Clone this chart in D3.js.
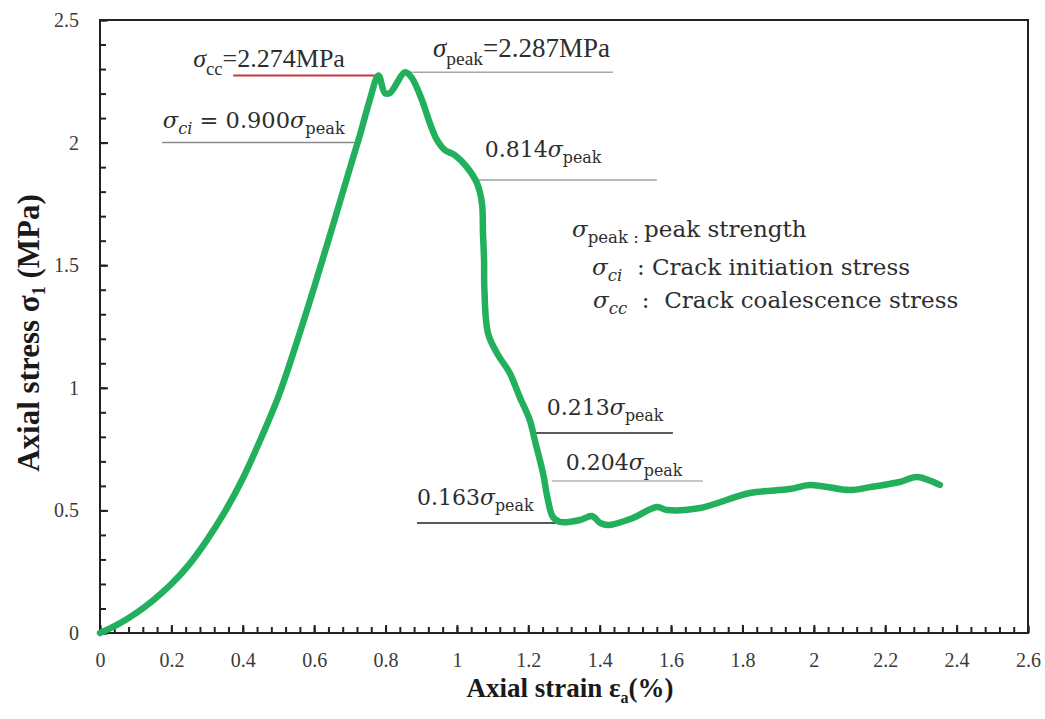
<!DOCTYPE html>
<html>
<head>
<meta charset="utf-8">
<script src="https://cdn.jsdelivr.net/npm/d3@7"></script>
<style>
  html, body { margin: 0; padding: 0; background: #fff; }
  svg { display: block; }
</style>
</head>
<body>
<svg id="chart" width="1045" height="719"></svg>
<script>
// Stress–strain record: axial strain (%) and axial stress (MPa)
const strain = [0, 0.05, 0.10, 0.15, 0.20, 0.25, 0.30, 0.35, 0.40, 0.45, 0.50, 0.55, 0.60,
  0.65, 0.70, 0.73, 0.755, 0.780, 0.798, 0.812, 0.855, 0.874, 0.902, 0.924, 0.944, 0.966,
  0.994, 1.028, 1.056, 1.070, 1.073, 1.076, 1.077, 1.087, 1.112, 1.148, 1.176, 1.204, 1.218,
  1.241, 1.255, 1.269, 1.289, 1.345, 1.378, 1.401, 1.423, 1.493, 1.560, 1.588, 1.681, 1.821,
  1.933, 1.989, 2.101, 2.157, 2.241, 2.289, 2.353];
const stress = [0, 0.035, 0.080, 0.135, 0.200, 0.280, 0.380, 0.495, 0.630, 0.790, 0.965, 1.180,
  1.410, 1.650, 1.895, 2.040, 2.170, 2.274, 2.202, 2.202, 2.287, 2.263, 2.174, 2.080, 2.011,
  1.970, 1.949, 1.900, 1.835, 1.754, 1.631, 1.521, 1.399, 1.223, 1.142, 1.060, 0.962, 0.869,
  0.787, 0.653, 0.542, 0.473, 0.453, 0.461, 0.477, 0.449, 0.440, 0.469, 0.514, 0.502, 0.510,
  0.571, 0.587, 0.604, 0.583, 0.595, 0.616, 0.636, 0.604];

// Tick values
const xTicks = [0, 0.2, 0.4, 0.6, 0.8, 1, 1.2, 1.4, 1.6, 1.8, 2, 2.2, 2.4, 2.6];
const yTicks = [0, 0.5, 1, 1.5, 2, 2.5];

// Characteristic stress levels (MPa) and the strain span of each marker line
const levelNames = ["cc", "peak", "ci", "r814", "r213", "r204", "r163"];
const levelStress = [2.274, 2.287, 2.0, 1.847, 0.816, 0.620, 0.449];
const levelStrainFrom = [0.373, 0.854, 0.174, 1.056, 1.218, 1.266, 0.888];
const levelStrainTo = [0.779, 1.437, 0.728, 1.560, 1.605, 1.689, 1.280];

// Label texts: [text, flags] runs (i = italic, s = subscript)
const levelLabels = [
  [["σ", "i"], ["cc", "s"], ["=2.274MPa", ""]],
  [["σ", "i"], ["peak", "s"], ["=2.287MPa", ""]],
  [["σ", "i"], ["ci", "is"], [" = 0.900", ""], ["σ", "i"], ["peak", "s"]],
  [["0.814", ""], ["σ", "i"], ["peak", "s"]],
  [["0.213", ""], ["σ", "i"], ["peak", "s"]],
  [["0.204", ""], ["σ", "i"], ["peak", "s"]],
  [["0.163", ""], ["σ", "i"], ["peak", "s"]]
];
const legendLines = [
  [["σ", "i"], ["peak", "s"], [" : ", "small"], ["peak strength", ""]],
  [["σ", "i"], ["ci", "is"], ["  : Crack initiation stress", ""]],
  [["σ", "i"], ["cc", "is"], ["  :  Crack coalescence stress", ""]]
];

const svg = d3.select("#chart");
const plotL = 100, plotR = 1028, plotT = 20, plotB = 633;

const x = d3.scaleLinear().domain([0, 2.6]).range([plotL, plotR]);
const y = d3.scaleLinear().domain([0, 2.5]).range([plotB, plotT]);

const TIMES = "'Liberation Serif', 'Times New Roman', serif";
const BOOK = "'DejaVu Serif', 'Liberation Serif', serif";
const axisColor = "#222";
const tickText = "#3a3a3a";

// Minor ticks
const xMinor = d3.range(0, 2.6001, 0.04).map(v => +v.toFixed(2));
const yMinor = d3.range(0, 2.5001, 0.1).map(v => +v.toFixed(2));

function styleTicks(g) {
  g.select(".domain").remove();
  g.selectAll(".tick line").attr("stroke", axisColor).attr("stroke-width", 2);
  g.selectAll(".tick text").attr("fill", tickText).attr("font-size", 20).attr("font-family", TIMES);
}

const gxMinor = svg.append("g").attr("class", "x-minor").attr("transform", `translate(0,${plotB})`);
gxMinor.call(d3.axisBottom(x).tickValues(xMinor).tickSizeInner(-6).tickSizeOuter(0).tickFormat(() => ""));
styleTicks(gxMinor);

const gxMajor = svg.append("g").attr("class", "x-major").attr("transform", `translate(0,${plotB})`);
gxMajor.call(d3.axisBottom(x).tickValues(xTicks).tickSizeInner(-8).tickSizeOuter(0).tickPadding(20)
  .tickFormat(d => d3.format("~g")(d)));
styleTicks(gxMajor);

const gyMinor = svg.append("g").attr("class", "y-minor").attr("transform", `translate(${plotL},0)`);
gyMinor.call(d3.axisLeft(y).tickValues(yMinor).tickSizeInner(-6).tickSizeOuter(0).tickFormat(() => ""));
styleTicks(gyMinor);

const gyMajor = svg.append("g").attr("class", "y-major").attr("transform", `translate(${plotL},0)`);
gyMajor.call(d3.axisLeft(y).tickValues(yTicks).tickSizeInner(-8).tickSizeOuter(0).tickPadding(21)
  .tickFormat(d => d3.format("~g")(d)));
styleTicks(gyMajor);

// Plot frame
svg.append("rect")
  .attr("x", plotL).attr("y", plotT)
  .attr("width", plotR - plotL).attr("height", plotB - plotT)
  .attr("fill", "none").attr("stroke", axisColor).attr("stroke-width", 2);

// Rich text helper
function richText(sel, runs, size, family) {
  const t = sel.append("text").attr("font-size", size).attr("font-family", family)
    .attr("fill", "#2e2e2e");
  let shifted = false;
  runs.forEach(([str, flags]) => {
    const sp = t.append("tspan").text(str).style("white-space", "pre");
    if (flags.includes("i")) sp.attr("font-style", "italic");
    if (flags.includes("s")) {
      sp.attr("font-size", size * 0.72);
      if (!shifted) { sp.attr("dy", size * 0.28); shifted = true; }
    } else {
      if (flags.includes("small")) sp.attr("font-size", size * 0.6);
      if (shifted) { sp.attr("dy", -size * 0.28); shifted = false; }
    }
  });
  return t;
}

// Marker lines
const lineColors = {
  cc: "#c8353c", peak: "#a8a8a8", ci: "#8c8c8c", r814: "#a0a0a0",
  r213: "#5a5a5a", r204: "#b4b4b4", r163: "#5a5a5a"
};
const lineWidths = { cc: 2, peak: 1.5, ci: 1.5, r814: 1.5, r213: 2, r204: 1.5, r163: 2 };
levelNames.forEach((name, i) => {
  svg.append("line")
    .attr("x1", x(levelStrainFrom[i])).attr("x2", x(levelStrainTo[i]))
    .attr("y1", y(levelStress[i])).attr("y2", y(levelStress[i]))
    .attr("stroke", lineColors[name]).attr("stroke-width", lineWidths[name]);
});

// Curve
const pts = strain.map((s, i) => [s, stress[i]]);
svg.append("path")
  .datum(pts)
  .attr("fill", "none")
  .attr("stroke", "#22b05c")
  .attr("stroke-width", 6.5)
  .attr("stroke-linejoin", "round")
  .attr("stroke-linecap", "round")
  .attr("d", d3.line().x(d => x(d[0])).y(d => y(d[1])).curve(d3.curveCatmullRom.alpha(0.5)));

// Marker labels (anchor in strain / stress units, text baseline, size, face)
const labelAt = {
  cc: [0.261, 2.307, 26, TIMES], peak: [0.933, 2.349, 27, TIMES],
  ci: [0.176, 2.059, 22.5, BOOK], r814: [1.078, 1.941, 22, BOOK],
  r213: [1.252, 0.889, 22, BOOK], r204: [1.305, 0.665, 22, BOOK],
  r163: [0.888, 0.522, 22, BOOK]
};
levelNames.forEach((name, i) => {
  const [lx, ly, fs, ff] = labelAt[name];
  richText(svg, levelLabels[i], fs, ff).attr("x", x(lx)).attr("y", y(ly));
});

// Legend of symbols
const legendPos = [[572, 237], [592, 275], [593, 308]];
legendLines.forEach((runs, i) => {
  richText(svg, runs, 23, BOOK).attr("x", legendPos[i][0]).attr("y", legendPos[i][1]);
});

// Axis titles
const xt = svg.append("text")
  .attr("x", 570).attr("y", 697)
  .attr("text-anchor", "middle").attr("font-family", TIMES)
  .attr("font-size", 27).attr("font-weight", "bold").attr("fill", "#1a1a1a");
xt.append("tspan").text("Axial strain ε");
xt.append("tspan").text("a").attr("font-size", 16).attr("dy", 6);
xt.append("tspan").text("(%)").attr("dy", -6);

const yt = svg.append("text")
  .attr("transform", "translate(39,333) rotate(-90)")
  .attr("text-anchor", "middle").attr("font-family", TIMES)
  .attr("font-size", 31).attr("font-weight", "bold").attr("fill", "#1a1a1a");
yt.append("tspan").text("Axial stress σ");
yt.append("tspan").text("1").attr("font-size", 18).attr("dy", 6);
yt.append("tspan").text(" (MPa)").attr("dy", -6);
</script>
</body>
</html>
